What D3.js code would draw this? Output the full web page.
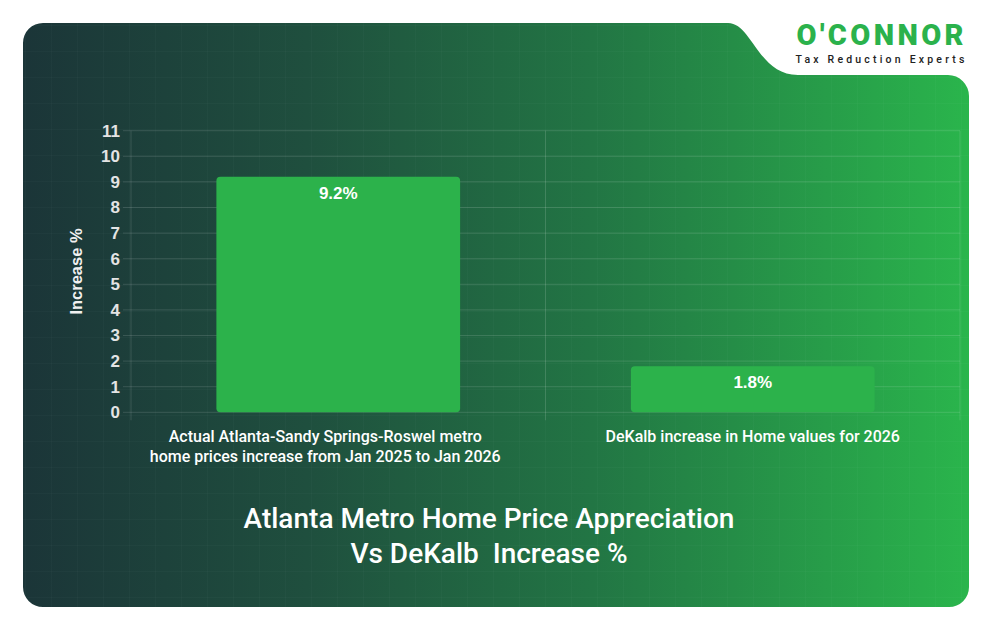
<!DOCTYPE html>
<html><head><meta charset="utf-8">
<script src="https://cdn.jsdelivr.net/npm/d3@7"></script>
<style>html,body{margin:0;padding:0;background:#fff;}svg{display:block;}</style>
</head><body>
<svg id="chart" width="994" height="632"></svg>
<script>
const categories = [
  ["Actual Atlanta-Sandy Springs-Roswel metro", "home prices increase from Jan 2025 to Jan 2026"],
  ["DeKalb increase in Home values for 2026"]
];
const values = [9.2, 1.8];
const valueLabels = ["9.2%", "1.8%"];
const yTicks = [0,1,2,3,4,5,6,7,8,9,10,11];
const yTitle = "Increase %";
const titleLines = ["Atlanta Metro Home Price Appreciation", "Vs DeKalb\u00a0 Increase %"];
const brand = "O'CONNOR";
const tagline = "Tax Reduction Experts";

const svg = d3.select("#chart");
const defs = svg.append("defs");
const grad = defs.append("linearGradient").attr("id","bg").attr("x1","0").attr("x2","1").attr("y1","0").attr("y2","0");
[["0%","#1b3538"],["30%","#1f4f3e"],["60%","#227544"],["100%","#2ab54c"]].forEach(s=>grad.append("stop").attr("offset",s[0]).attr("stop-color",s[1]));
const pat = defs.append("pattern").attr("id","cells").attr("width",26).attr("height",26).attr("patternUnits","userSpaceOnUse");
pat.append("path").attr("d","M26 0 V26 M0 26 H26").attr("stroke","rgba(255,255,255,0.035)").attr("stroke-width",1).attr("fill","none");

const cardPath = "M43,23 H728 C752,23 758,75 798,75 H948 A21,21 0 0 1 969,96 V587 A20,20 0 0 1 949,607 H43 A20,20 0 0 1 23,587 V43 A20,20 0 0 1 43,23 Z";
svg.append("path").attr("d",cardPath).attr("fill","url(#bg)");
svg.append("path").attr("d",cardPath).attr("fill","url(#cells)");

// logo
svg.append("text").attr("x",880).attr("y",45).attr("text-anchor","middle")
  .attr("font-family","Roboto, 'Noto Sans', sans-serif").attr("font-weight",900).attr("font-size",29)
  .attr("fill","#2bb24c").attr("letter-spacing",3.4).text(brand).attr("dx",1.7);
svg.append("text").attr("x",880).attr("y",63).attr("text-anchor","middle")
  .attr("font-family","Roboto, sans-serif").attr("font-weight",500).attr("font-size",10.5)
  .attr("fill","#222").attr("letter-spacing",3.2).text(tagline).attr("dx",1.6);

// chart
const x0 = 131, x1 = 960, yTop = 130.7, yBot = 412.3;
const x = d3.scaleBand().domain(d3.range(values.length)).range([x0,x1]).paddingInner(0).paddingOuter(0);
const y = d3.scaleLinear().domain([0,11]).range([yBot,yTop]);

const g = svg.append("g");
g.selectAll(".hg").data(yTicks).join("line")
  .attr("x1",x0-8).attr("x2",x1).attr("y1",d=>y(d)).attr("y2",d=>y(d))
  .attr("stroke","rgba(255,255,255,0.13)").attr("stroke-width",1);
const vLines = [x0, x(1), x1];
g.selectAll(".vg").data(vLines).join("line")
  .attr("x1",d=>d).attr("x2",d=>d).attr("y1",yTop).attr("y2",yBot+8)
  .attr("stroke","rgba(255,255,255,0.13)").attr("stroke-width",1);

const yAxis = d3.axisLeft(y).tickValues(yTicks).tickSize(0).tickPadding(11);
const ya = g.append("g").attr("transform",`translate(${x0},0)`).call(yAxis);
ya.select(".domain").remove();
ya.selectAll("text").attr("font-family","'Liberation Sans', Arial, sans-serif").attr("font-weight","bold")
  .attr("font-size",17).attr("fill","#e4e4e4");

svg.append("text").attr("transform",`translate(82,${(yTop+yBot)/2}) rotate(-90)`).attr("text-anchor","middle")
  .attr("font-family","'Liberation Sans', Arial, sans-serif").attr("font-weight","bold").attr("font-size",16.5)
  .attr("fill","#f0f0f0").text(yTitle);

const bw = x.bandwidth()*0.588;
g.selectAll(".bar").data(values).join("rect")
  .attr("x",(d,i)=>x(i)+x.bandwidth()/2-bw/2).attr("width",bw)
  .attr("y",d=>y(d)).attr("height",d=>yBot-y(d)).attr("rx",4).attr("ry",4)
  .attr("fill","#2cb24b");
g.selectAll(".vl").data(values).join("text")
  .attr("x",(d,i)=>x(i)+x.bandwidth()/2).attr("y",d=>y(d)+22).attr("text-anchor","middle")
  .attr("font-family","'Liberation Sans', Arial, sans-serif").attr("font-weight","bold").attr("font-size",17)
  .attr("fill","#ffffff").text((d,i)=>valueLabels[i]);

const offs = [-13, 0];
categories.forEach((lines,i)=>{
  const t = g.append("text").attr("text-anchor","middle")
    .attr("font-family","Roboto, sans-serif").attr("font-weight",500).attr("font-size",16).attr("fill","#ffffff");
  lines.forEach((l,j)=>t.append("tspan").attr("x",x(i)+x.bandwidth()/2+offs[i]).attr("y",442+j*19.5).text(l));
});

const tt = svg.append("text").attr("text-anchor","middle")
  .attr("font-family","Roboto, sans-serif").attr("font-weight",500).attr("font-size",28).attr("fill","#ffffff");
titleLines.forEach((l,j)=>tt.append("tspan").attr("x",489).attr("y",528+j*35).text(l));
</script>
</body></html>
